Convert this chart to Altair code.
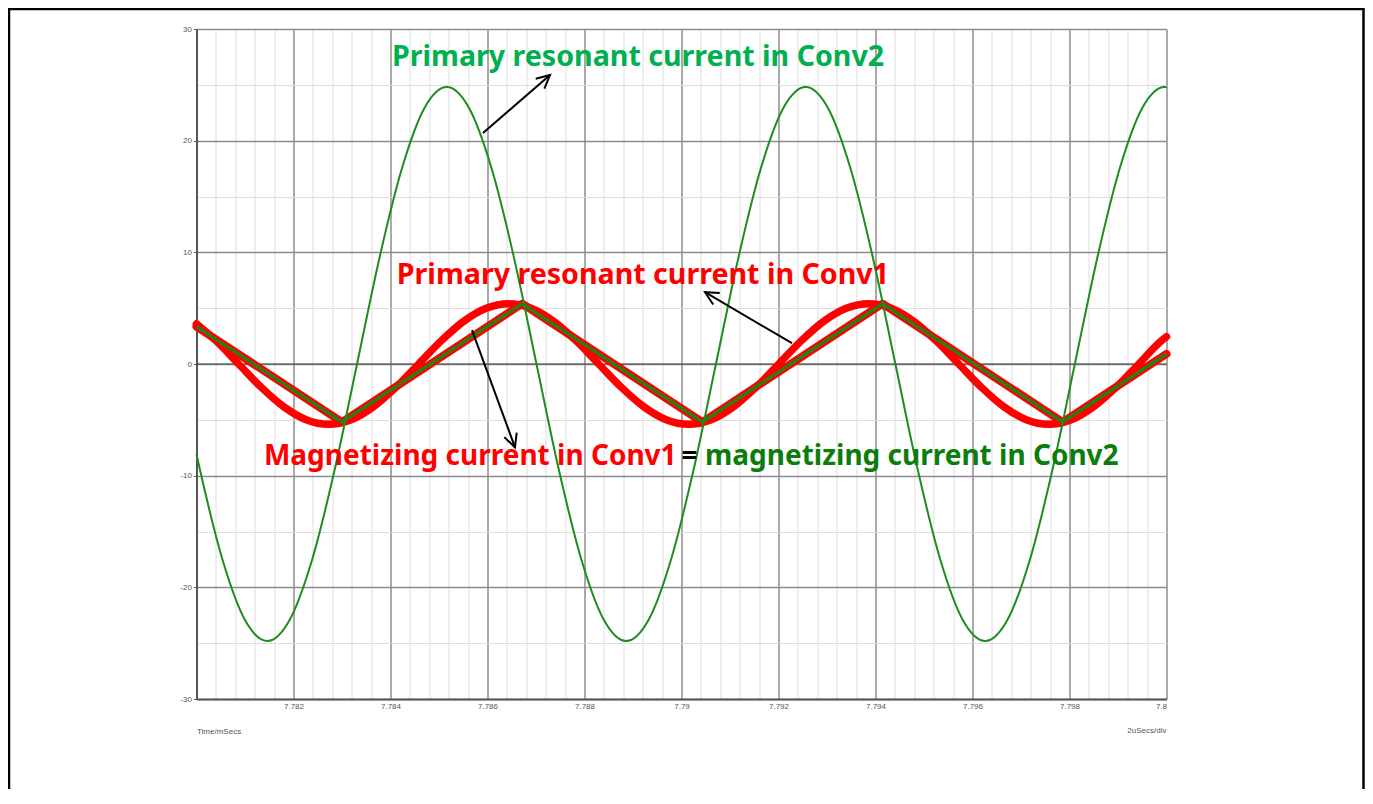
import altair as alt
import pandas as pd

# ---------------- data (time in microseconds after 7.780 ms, current in A) ----------------
# Primary resonant current in Conv2 (thin green sinusoid)
sine_t = [0, 0.0725, 0.535, 0.9975, 1.46, 1.9225, 2.385, 2.8475, 3.31, 3.7725, 4.235, 4.6975,
          5.16, 5.6225, 6.085, 6.5475, 7.01, 7.4725, 7.935, 8.3975, 8.86, 9.3225, 9.785, 10.2475,
          10.71, 11.1725, 11.635, 12.0975, 12.56, 13.0225, 13.485, 13.9475, 14.41, 14.8725, 15.335,
          15.7975, 16.26, 16.7225, 17.185, 17.6475, 18.11, 18.5725, 19.035, 19.4975, 19.96, 20.0]
sine_v = [-8.1, -9.5, -17.5, -22.9, -24.8, -22.9, -17.5, -9.5, 0, 9.5, 17.5, 22.9,
          24.8, 22.9, 17.5, 9.5, 0, -9.5, -17.5, -22.9, -24.8, -22.9, -17.5, -9.5,
          0, 9.5, 17.5, 22.9, 24.8, 22.9, 17.5, 9.5, 0, -9.5, -17.5,
          -22.9, -24.8, -22.9, -17.5, -9.5, 0, 9.5, 17.5, 22.9, 24.8, 24.8]

# Primary resonant current in Conv1 (thick red sinusoid)
res_t = [0, 0.404, 0.868, 1.332, 1.796, 2.26, 2.724, 3.188, 3.652, 4.116, 4.58, 5.044, 5.508,
         5.972, 6.436, 6.9, 7.364, 7.828, 8.292, 8.756, 9.22, 9.684, 10.148, 10.612, 11.076,
         11.54, 12.004, 12.468, 12.932, 13.396, 13.86, 14.324, 14.788, 15.252, 15.716, 16.18,
         16.644, 17.108, 17.572, 18.036, 18.5, 18.964, 19.428, 19.892, 20.0]
res_v = [3.6, 2.07, 0, -2.07, -3.82, -4.99, -5.4, -4.99, -3.82, -2.07, 0, 2.07, 3.82,
         4.99, 5.4, 4.99, 3.82, 2.07, 0, -2.07, -3.82, -4.99, -5.4, -4.99, -3.82,
         -2.07, 0, 2.07, 3.82, 4.99, 5.4, 4.99, 3.82, 2.07, 0, -2.07,
         -3.82, -4.99, -5.4, -4.99, -3.82, -2.07, 0, 2.07, 2.45]

# Magnetizing current (Conv1 red = Conv2 green, triangular)
mag_t = [0, 3.0, 6.715, 10.43, 14.145, 17.86, 20.0]
mag_v = [3.35, -5.2, 5.4, -5.2, 5.4, -5.2, 0.9]

# annotations
ann_text = ["Primary resonant current in Conv2", "Primary resonant current in Conv1",
            "Magnetizing current in Conv1", "=", "magnetizing current in Conv2"]
ann_t = [4.03, 4.13, 1.39, 10.0, 10.485]
ann_v = [26.68, 7.15, -9.07, -9.07, -9.07]
ann_color = ["#00b050", "#ff0000", "#ff0000", "#000000", "#0a7d0a"]
ann_size = [28.6, 28.6, 28, 28, 28]

arrow_t = [5.907, 12.278, 5.68]
arrow_v = [20.68, 1.86, 3.03]
tip_t = [7.289, 10.485, 6.567]
tip_v = [25.88, 6.43, -7.46]
tip_angle = [49, 300, 160]

# axes
minor_x = [0, 0.4, 0.8, 1.2, 1.6, 2, 2.4, 2.8, 3.2, 3.6, 4, 4.4, 4.8, 5.2, 5.6, 6, 6.4, 6.8,
           7.2, 7.6, 8, 8.4, 8.8, 9.2, 9.6, 10, 10.4, 10.8, 11.2, 11.6, 12, 12.4, 12.8, 13.2,
           13.6, 14, 14.4, 14.8, 15.2, 15.6, 16, 16.4, 16.8, 17.2, 17.6, 18, 18.4, 18.8, 19.2,
           19.6, 20]
y_vals = [-30, -25, -20, -15, -10, -5, 0, 5, 10, 15, 20, 25, 30]

# ---------------- tables ----------------
sine_df = pd.DataFrame({"t": sine_t, "v": sine_v})
res_df = pd.DataFrame({"t": res_t, "v": res_v})
mag_df = pd.DataFrame({"t": mag_t, "v": mag_v})
ann_df = pd.DataFrame({"t": ann_t, "v": ann_v, "label": ann_text, "color": ann_color,
                       "fs": ann_size})
arr_df = pd.DataFrame({"t": arrow_t, "v": arrow_v, "t2": tip_t, "v2": tip_v})
tip_df = pd.DataFrame({"t": tip_t, "v": tip_v, "ang": tip_angle})

MAJ_X = "abs(datum.value/2 - round(datum.value/2)) < 0.01"
MAJ_Y = "datum.value % 10 == 0"
AX_FONT = "Liberation Sans"

x_axis = alt.Axis(
    values=minor_x, grid=True,
    gridColor={"condition": {"test": MAJ_X, "value": "#8c8c8c"}, "value": "#dedede"},
    gridWidth={"condition": {"test": MAJ_X, "value": 1.5}, "value": 1},
    ticks=False,
    labelExpr="(" + MAJ_X + ") && datum.value > 0.01 ? format(7.78 + datum.value/1000, '.3~f') : ''",
    labelFont=AX_FONT, labelFontSize=8, labelColor="#555", labelPadding=3, labelOverlap=False,
    domainColor="#555", domainWidth=2,
    title="Time/mSecs", titleFont=AX_FONT, titleFontSize=8, titleFontWeight="normal",
    titleColor="#555", titleAnchor="start", titleAlign="left", titleX=0, titleY=32,
    titleBaseline="middle",
)
y_axis = alt.Axis(
    values=y_vals, grid=True,
    gridColor={"condition": {"test": MAJ_Y, "value": "#8c8c8c"}, "value": "#dedede"},
    gridWidth={"condition": {"test": MAJ_Y, "value": 1.5}, "value": 1},
    tickSize=3, tickColor="#555",
    tickOpacity={"condition": {"test": MAJ_Y, "value": 1}, "value": 0},
    labelExpr=MAJ_Y + " ? '' + datum.value : ''",
    labelFont=AX_FONT, labelFontSize=8, labelColor="#555", labelPadding=2, labelOverlap=False,
    domainColor="#555", domainWidth=2, title="",
)

xs = alt.Scale(domain=[0, 20], nice=False, zero=False)
ys = alt.Scale(domain=[-30, 30], nice=False, zero=False)
X = alt.X("t:Q", scale=xs, axis=x_axis)
Y = alt.Y("v:Q", scale=ys, axis=y_axis)

zero_line = alt.Chart(pd.DataFrame({"v": [0]})).mark_rule(color="#404040", strokeWidth=1).encode(y=Y)

mag_red = alt.Chart(mag_df).mark_line(color="#ff0000", strokeWidth=8, strokeCap="round",
                                      strokeJoin="round").encode(x=X, y=Y)
res_red = alt.Chart(res_df).mark_line(color="#ff0000", strokeWidth=7.5, strokeCap="round",
                                      interpolate="monotone").encode(x=X, y=Y)
mag_green = alt.Chart(mag_df).mark_line(color="#2f7a12", strokeWidth=3.5,
                                        strokeJoin="round").encode(x=X, y=Y)
sine = alt.Chart(sine_df).mark_line(color="#1f8c1f", strokeWidth=2,
                                    interpolate="monotone").encode(x=X, y=Y)

arrows = alt.Chart(arr_df).mark_rule(color="black", strokeWidth=2).encode(
    x=X, y=Y, x2="t2:Q", y2="v2:Q")
heads = alt.Chart(tip_df).mark_point(shape="M-0.5,1L0,0L0.5,1", size=700, filled=False,
                                     stroke="black", strokeWidth=2, opacity=1).encode(
    x=X, y=Y, angle=alt.Angle("ang:Q", scale=None))

texts = alt.Chart(ann_df).mark_text(align="left", baseline="alphabetic", font="Noto Sans",
                                    fontWeight="bold").encode(
    x=X, y=Y, text="label:N", color=alt.Color("color:N", scale=None),
    size=alt.Size("fs:Q", scale=None))

div_label = alt.Chart(pd.DataFrame({"k": [0]})).mark_text(
    align="right", baseline="middle", font=AX_FONT, fontSize=8, color="#555").encode(
    x=alt.value(970), y=alt.value(702), text=alt.value("2uSecs/div"))

border = alt.Chart(pd.DataFrame({"k": [0]})).mark_rect(
    fillOpacity=0, stroke="black", strokeWidth=2.5).encode(
    x=alt.value(-187.5), x2=alt.value(1167), y=alt.value(-20), y2=alt.value(790))

chart = alt.layer(
    zero_line, mag_red, res_red, mag_green, sine, arrows, heads, texts, div_label, border
).properties(
    width=970, height=670,
    autosize=alt.AutoSizeParams(type="none"),
    padding={"left": 188.5, "top": 21, "right": 198.5, "bottom": 90},
    background="white",
).configure_view(strokeWidth=0)

chart.save("out.html", embed_options={"renderer": "svg", "actions": False})
